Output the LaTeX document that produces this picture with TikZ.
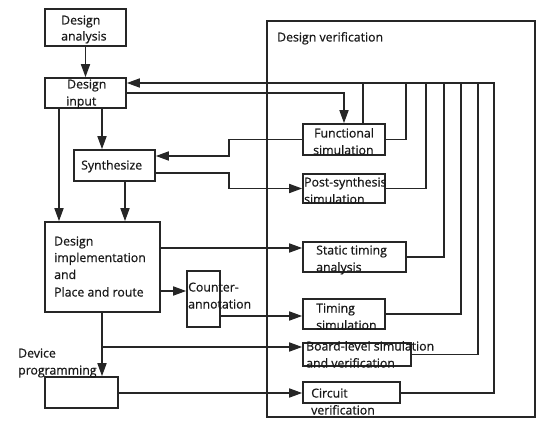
\documentclass[tikz,border=0pt]{standalone}
\usepackage{fontspec}
\setmainfont{Open Sans}[FakeBold=0.7]
\usetikzlibrary{arrows.meta,calc}
\begin{document}
\begin{tikzpicture}[x=1pt,y=-1pt,
  box/.style={draw=black!85,line width=1.6pt,rectangle,inner sep=0pt,fill=none},
  lbl/.style={inner sep=0pt,anchor=base west,text=black!90,font=\fontsize{12.3}{15}\selectfont},
  conn/.style={draw=black!85,line width=1.6pt},
  arr/.style={conn,-{Triangle[length=13pt,width=9pt]}}]
\useasboundingbox (0,0) rectangle (560,441);
% boxes
\node[box,minimum width=81,minimum height=37] (da) at (85.5,27.5) {};
\node[box,minimum width=81,minimum height=30] (di) at (85.5,93) {};
\node[box,minimum width=81,minimum height=31] (syn) at (114.5,165.5) {};
\node[box,minimum width=115,minimum height=90] (impl) at (102.5,267) {};
\node[box,minimum width=33,minimum height=56] (ca) at (203.5,299) {};
\node[box,minimum width=73,minimum height=31] (dp) at (81.5,392.5) {};
\node[box,minimum width=268,minimum height=396] (dv) at (401,219) {};
\node[box,minimum width=82,minimum height=31] (fs) at (344,139.5) {};
\node[box,minimum width=82,minimum height=29] (ps) at (344,188.5) {};
\node[box,minimum width=103,minimum height=30] (sta) at (354.5,257) {};
\node[box,minimum width=82,minimum height=30] (ts) at (344,314) {};
\node[box,minimum width=108,minimum height=23] (bl) at (357,354.5) {};
\node[box,minimum width=97,minimum height=21] (cv) at (351.5,392.5) {};
% labels
\node[lbl] (tda1) at (61,24.5) {Design};
\node[lbl] (tda2) at (61,40.5) {analysis};
\node[lbl] (tdi1) at (67,88.5) {Design};
\node[lbl] (tdi2) at (66,105.5) {input};
\node[lbl] (tsyn) at (81,169.5) {Synthesize};
\node[lbl] (tim1) at (54,245.5) {Design};
\node[lbl] (tim2) at (54,262) {implementation};
\node[lbl] (tim3) at (54,279) {and};
\node[lbl] (tim4) at (54,296.5) {Place and route};
\node[lbl] (tca1) at (188,291.5) {Counter-};
\node[lbl] (tca2) at (188,308.5) {annotation};
\node[lbl] (tdp1) at (18,357.5) {Device};
\node[lbl] (tdp2) at (18,374.5) {programming};
\node[lbl] (tdv) at (277,41.5) {Design verification};
\node[lbl] (tfs1) at (314,137.5) {Functional};
\node[lbl] (tfs2) at (313,154.5) {simulation};
\node[lbl] (tps1) at (304,186.5) {Post-synthesis};
\node[lbl] (tps2) at (304,203.5) {simulation};
\node[lbl] (tst1) at (316,254.5) {Static timing};
\node[lbl] (tst2) at (316,271.5) {analysis};
\node[lbl] (tts1) at (316,312.5) {Timing};
\node[lbl] (tts2) at (316,329.5) {simulation};
\node[lbl] (tbl1) at (306,350.5) {Board-level simulation};
\node[lbl] (tbl2) at (306,367.5) {and verification};
\node[lbl] (tcv1) at (311,397.5) {Circuit};
\node[lbl] (tcv2) at (311,414.5) {verification};
% helper coordinates
\coordinate (t0) at (363,83);
\coordinate (t1) at (406,83);
\coordinate (t2) at (426,83);
\coordinate (t3) at (444,83);
\coordinate (t4) at (461,83);
\coordinate (t5) at (478,83);
\coordinate (t6) at (494,83);
\coordinate (j1) at (229,156);
\coordinate (j2) at (229,173);
\coordinate (xa) at (59,0);
\coordinate (xb) at (102,0);
\coordinate (xc) at (125,0);
\coordinate (ya) at (0,248);
\coordinate (yb) at (0,291);
\coordinate (yc) at (0,316);
\coordinate (ye) at (0,393);
\coordinate (br) at (102,347);
% connectors
\draw[arr] (da.south) -- (di.north);
\draw[arr] (cv.east |- ye) -| (t6) -- (di.east |- t6);
\draw[conn] (bl.east) -| (t5);
\draw[conn] (ts.east) -| (t4);
\draw[conn] (sta.east) -| (t3);
\draw[conn] (ps.east) -| (t2);
\draw[conn] (fs.east) -| (t1);
\draw[conn] (fs.north -| t0) -- (t0);
\draw[arr] (di.east) -| (fs.north);
\draw[arr] (fs.west) -| (j1) -- (syn.east |- j1);
\draw[arr] (syn.east |- j2) -- (j2) |- (ps.west);
\draw[arr] (di.south -| xb) -- (syn.north -| xb);
\draw[arr] (di.south -| xa) -- (impl.north -| xa);
\draw[arr] (syn.south -| xc) -- (impl.north -| xc);
\draw[arr] (impl.east |- ya) -- (sta.west |- ya);
\draw[arr] (impl.east |- yb) -- (ca.west |- yb);
\draw[arr] (ca.east |- yc) -- (ts.west |- yc);
\draw[arr] (impl.south -| xb) -- (dp.north -| xb);
\draw[arr] (br) -- (bl.west |- br);
\draw[arr] (dp.east |- ye) -- (cv.west |- ye);
\end{tikzpicture}
\end{document}
